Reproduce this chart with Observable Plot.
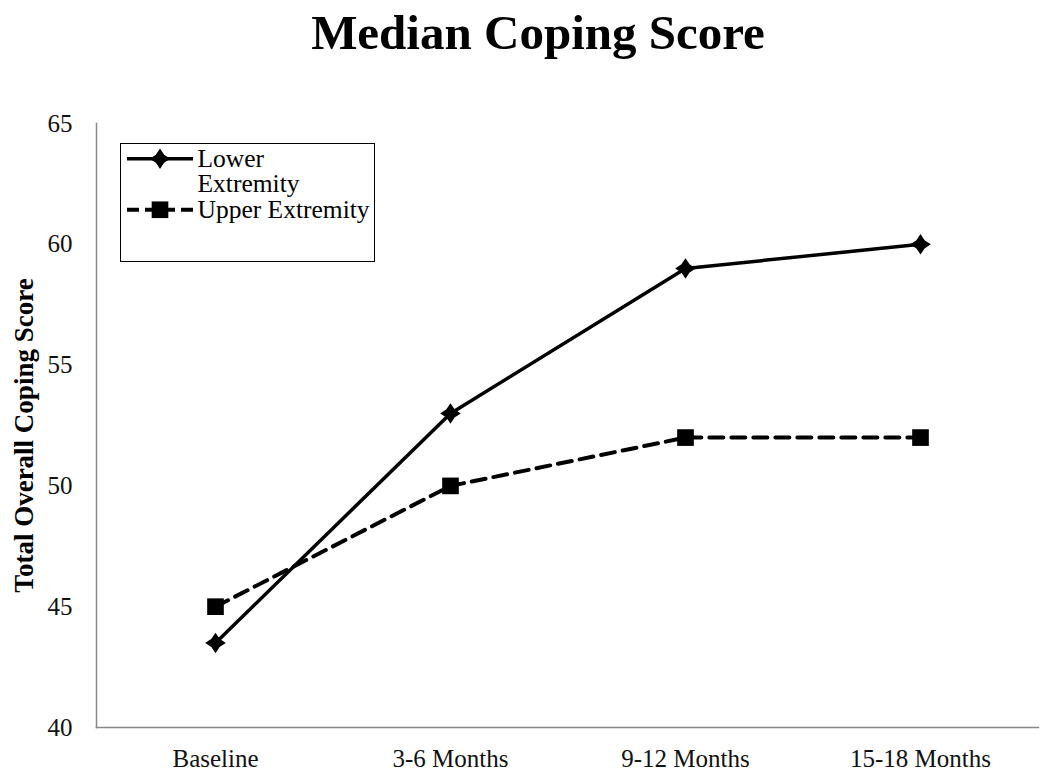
<!DOCTYPE html>
<html>
<head>
<meta charset="utf-8">
<script src="https://cdn.jsdelivr.net/npm/d3@7"></script>
<script src="https://cdn.jsdelivr.net/npm/@observablehq/plot@0.6"></script>
<style>
  html, body { margin: 0; padding: 0; background: #fff; }
  #wrap { position: relative; width: 1050px; height: 780px; font-family: "Liberation Serif", "Times New Roman", serif; }
  #title { height: 76.6px; padding-top: 3.4px; line-height: 60px; font-size: 49px; font-weight: bold; text-align: center; color: #000; position: relative; left: 13px; }
  #legend { position: absolute; left: 120px; top: 143px; width: 255px; height: 119px; box-sizing: border-box; border: 1.5px solid #000; background: #fff; padding: 1.5px 0 0 5.5px; }
  .item { display: flex; align-items: flex-start; }
  .item svg { flex: none; margin-right: 5px; }
  .item span { font-size: 25.5px; line-height: 25.5px; white-space: pre-line; color: #000; }
</style>
</head>
<body>
<div id="wrap">
  <div id="title">Median Coping Score</div>
  <div id="chart"></div>
  <div id="legend"></div>
</div>
<script>
const categories = ["Baseline", "3-6 Months", "9-12 Months", "15-18 Months"];
const lowerExtremity = [43.5, 53, 59, 60];
const upperExtremity = [45, 50, 52, 52];
const yTicks = [40, 45, 50, 55, 60, 65];
const legendLabels = ["Lower\nExtremity", "Upper Extremity"];
const yLabel = "Total Overall Coping Score";

const diamond = {
  draw(context, size) {
    const r = Math.sqrt(size / 2);
    const k = 0.4 * r;
    context.moveTo(0, -r);
    context.lineTo(k, -k);
    context.lineTo(r, 0);
    context.lineTo(k, k);
    context.lineTo(0, r);
    context.lineTo(-k, k);
    context.lineTo(-r, 0);
    context.lineTo(-k, -k);
    context.closePath();
  }
};

const lowerData = categories.map((c, i) => ({cat: c, v: lowerExtremity[i]}));
const upperData = categories.map((c, i) => ({cat: c, v: upperExtremity[i]}));

const font = '"Liberation Serif", "Times New Roman", serif';

const chart = Plot.plot({
  width: 1050,
  height: 700,
  marginTop: 43,
  marginBottom: 53,
  marginLeft: 96,
  marginRight: 12,
  style: {fontFamily: font, fontSize: "25px", color: "#111", background: "#fff", overflow: "visible"},
  x: {type: "point", domain: categories, padding: 0.5},
  y: {domain: [40, 65]},
  marks: [
    Plot.axisX({tickSize: 0, tickPadding: 22, label: null, fontSize: 25}),
    Plot.axisY({ticks: yTicks, tickSize: 0, tickPadding: 24, label: null, fontSize: 25}),
    Plot.frame({anchor: "left", stroke: "#888", strokeWidth: 1.5}),
    Plot.frame({anchor: "bottom", stroke: "#888", strokeWidth: 1.5}),
    Plot.line(upperData, {x: "cat", y: "v", stroke: "#000", strokeWidth: 4, strokeDasharray: "14,8"}),
    Plot.line(lowerData, {x: "cat", y: "v", stroke: "#000", strokeWidth: 3.5}),
    Plot.dot(upperData, {x: "cat", y: "v", symbol: "square", r: 9.4, fill: "#000", stroke: "none"}),
    Plot.dot(lowerData, {x: "cat", y: "v", symbol: diamond, r: 8.2, fill: "#000", stroke: "none"}),
    Plot.text([yLabel], {frameAnchor: "left", rotate: -90, dx: -72, dy: 10, fontWeight: "bold", fontSize: 27, fill: "#000", textAnchor: "middle"})
  ]
});
document.getElementById("chart").appendChild(chart);

// Legend
const legend = document.getElementById("legend");
const styles = [
  {dash: null, sym: diamond, r: 8.2, sw: 3.5},
  {dash: "12,6", sym: d3.symbolSquare, r: 9.4, sw: 4}
];
legendLabels.forEach((name, i) => {
  const item = document.createElement("div");
  item.className = "item";
  const W = 66, H = 25.5;
  const svg = d3.create("svg").attr("width", W).attr("height", H);
  svg.append("line")
    .attr("x1", 0).attr("x2", W).attr("y1", H / 2).attr("y2", H / 2)
    .attr("stroke", "#000").attr("stroke-width", styles[i].sw)
    .attr("stroke-dasharray", styles[i].dash);
  svg.append("path")
    .attr("transform", `translate(${W / 2},${H / 2})`)
    .attr("d", d3.symbol(styles[i].sym, Math.PI * styles[i].r * styles[i].r)())
    .attr("fill", "#000");
  item.appendChild(svg.node());
  const span = document.createElement("span");
  span.textContent = name;
  item.appendChild(span);
  legend.appendChild(item);
});
</script>
</body>
</html>
